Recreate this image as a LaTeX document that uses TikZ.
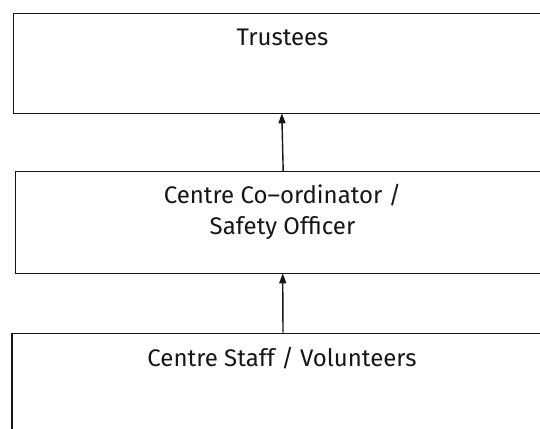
\documentclass[tikz,border=0pt]{standalone}
\usepackage{fontspec}
\setmainfont{Fira Sans}
\usetikzlibrary{arrows.meta}
\definecolor{ink}{HTML}{161616}
\tikzset{
  box/.style={draw=ink, line width=1.5pt, rectangle, inner sep=0pt},
  lbl/.style={anchor=base, font=\fontsize{24pt}{28pt}\selectfont, text=ink, inner sep=0pt},
  arr/.style={draw=ink, line width=1.4pt, -{Triangle[length=10pt,width=7pt]}}
}
\begin{document}
\begin{tikzpicture}[x=1pt,y=-1pt]
\clip (0,0) rectangle (540,428);
\fill[white] (0,0) rectangle (540,428);
% boxes
\node[box, minimum width=538.4pt, minimum height=100pt] (trustees) at (282.5,63.3) {};
\node[box, minimum width=535pt, minimum height=101.6pt] (coord) at (283.2,222.5) {};
\node[box, minimum width=542pt, minimum height=160pt] (staff) at (283,413.3) {};
% labels
\node[lbl] (t1) at (282.5,45.6) {Trustees};
\node[lbl] (c1) at (282.5,203.2) {Centre Co–ordinator /};
\node[lbl] (c2) at (282.5,234.6) {Safety Officer};
\node[lbl] (s1) at (282,366.6) {Centre Staff / Volunteers};
% connectors
\coordinate (tip1) at (281.8,113.3);
\coordinate (tip2) at (282.7,273.3);
\draw[arr] (coord.north) -- (tip1);
\draw[arr] (staff.north) -- (tip2);
\end{tikzpicture}
\end{document}
